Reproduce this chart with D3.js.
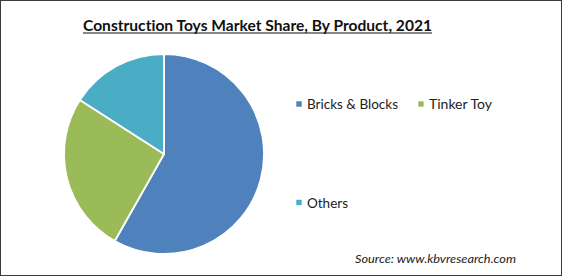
<!DOCTYPE html>
<html><head><meta charset="utf-8">
<script src="https://cdn.jsdelivr.net/npm/d3@7"></script>
<style>html,body{margin:0;padding:0;background:#fff;}svg{display:block;}text{font-variant-ligatures:none;font-feature-settings:"liga" 0;}</style>
</head><body>
<svg id="c" width="562" height="276"></svg>
<script>
const categories = ["Bricks & Blocks", "Tinker Toy", "Others"];
const shares = [58.2, 25.9, 15.9];
const colors = ["#4F81BD", "#9BBB59", "#4BACC6"];
const titleText = "Construction Toys Market Share, By Product, 2021";
const sourceText = "Source:  www.kbvresearch.com";

const svg = d3.select("#c");
svg.append("rect").attr("x",0.5).attr("y",0.5).attr("width",561).attr("height",275)
  .attr("fill","#fff").attr("stroke","#3a3a3a").attr("stroke-width",1);

const font = "Lato, 'Open Sans', sans-serif";

svg.append("text").attr("x",83).attr("y",30.5)
  .attr("font-family",font).attr("font-weight","bold").attr("font-size",15.5)
  .attr("fill","#111").attr("textLength",349).attr("lengthAdjust","spacingAndGlyphs")
  .text(titleText);
svg.append("line").attr("x1",83).attr("x2",432).attr("y1",33).attr("y2",33)
  .attr("stroke","#111").attr("stroke-width",1.2);

const cx = 164, cy = 154, r = 100;
const pie = d3.pie().sort(null).value(d => d)(shares);
const arc = d3.arc().innerRadius(0).outerRadius(r);
svg.append("g").attr("transform",`translate(${cx},${cy})`)
  .selectAll("path").data(pie).join("path")
  .attr("d",arc).attr("fill",(d,i)=>colors[i])
  .attr("stroke","#fff").attr("stroke-width",1.8).attr("stroke-linejoin","round");

const legendPos = [[299,104,91],[421,104,63],[299,202.5,41]];
const lg = svg.append("g");
categories.forEach((c,i)=>{
  const [x,y,w] = legendPos[i];
  lg.append("rect").attr("x",x-2.7).attr("y",y-2.7).attr("width",5.4).attr("height",5.4).attr("fill",colors[i]);
  lg.append("text").attr("x",x+8).attr("y",y+5).attr("font-family",font).attr("font-size",13.5)
    .attr("fill","#222").attr("textLength",w).attr("lengthAdjust","spacingAndGlyphs").text(c);
});

svg.append("text").attr("x",355).attr("y",263).attr("font-family",font).attr("font-style","italic")
  .attr("font-size",11).attr("fill","#222").attr("textLength",161).attr("lengthAdjust","spacingAndGlyphs")
  .text(sourceText);
</script>
</body></html>
